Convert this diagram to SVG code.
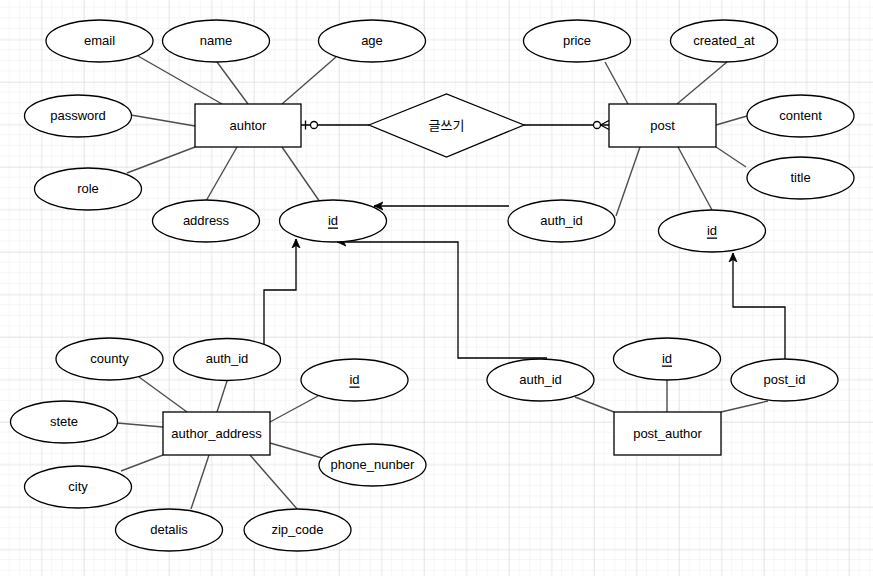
<svg xmlns="http://www.w3.org/2000/svg" width="873" height="576" viewBox="0 0 873 576">
<defs>
<pattern id="minor" width="10.625" height="10.625" patternUnits="userSpaceOnUse" x="41.5" y="39.5">
<path d="M10.625,0 V10.625 M0,10.625 H10.625" fill="none" stroke="#ededed" stroke-width="1"/>
</pattern>
<pattern id="major" width="42.5" height="42.5" patternUnits="userSpaceOnUse" x="41.5" y="39.5">
<path d="M0,0 V42.5 M0,0 H42.5" fill="none" stroke="#d9d9d9" stroke-width="1"/>
</pattern>
<marker id="arr" markerWidth="10" markerHeight="10" refX="9" refY="5" orient="auto" markerUnits="userSpaceOnUse">
<path d="M0,1 L9,5 L0,9 L2.5,5 z" fill="#000" stroke="#000" stroke-width="0.8"/>
</marker>
<style>
.e{fill:#fff;stroke:#000;stroke-width:1.3}
.r{fill:#fff;stroke:#000;stroke-width:1.3}
.t{font-family:"Liberation Sans",Arial,sans-serif;font-size:13px;fill:#000;text-anchor:middle;dominant-baseline:central;transform:translateY(-1px)}
.u{text-decoration:underline}
.a{stroke:#4d4d4d;stroke-width:1.4;fill:none}
.k{stroke:#000;stroke-width:1.3;fill:none}
</style>
</defs>
<rect width="873" height="576" fill="#fff"/>
<rect width="873" height="576" fill="url(#minor)"/>
<rect width="873" height="576" fill="url(#major)"/>

<g id="connectors">
<line class="a" x1="138" y1="56" x2="222" y2="104"/>
<line class="a" x1="217" y1="62" x2="248" y2="104"/>
<line class="a" x1="336" y1="57" x2="282" y2="104"/>
<line class="a" x1="131" y1="115" x2="195" y2="126"/>
<line class="a" x1="127" y1="173" x2="195" y2="147"/>
<line class="a" x1="206" y1="201" x2="237" y2="147"/>
<line class="a" x1="320" y1="202" x2="282" y2="147"/>
<line class="a" x1="605" y1="62" x2="628" y2="104"/>
<line class="a" x1="727" y1="62" x2="677" y2="104"/>
<line class="a" x1="747" y1="116" x2="716" y2="125"/>
<line class="a" x1="746" y1="167" x2="716" y2="147"/>
<line class="a" x1="712" y1="210" x2="678" y2="147"/>
<line class="a" x1="616" y1="216" x2="640" y2="147"/>
<line class="a" x1="139" y1="377" x2="187" y2="412"/>
<line class="a" x1="227" y1="381" x2="217" y2="412"/>
<line class="a" x1="318" y1="396" x2="270" y2="422"/>
<line class="a" x1="117" y1="423" x2="163" y2="427"/>
<line class="a" x1="121" y1="471" x2="163" y2="455"/>
<line class="a" x1="191" y1="509" x2="209" y2="455"/>
<line class="a" x1="298" y1="510" x2="250" y2="455"/>
<line class="a" x1="322" y1="458" x2="270" y2="443"/>
<line class="a" x1="575" y1="397" x2="614" y2="412"/>
<line class="a" x1="667" y1="380" x2="667" y2="412"/>
<line class="a" x1="768" y1="401" x2="721" y2="412"/>
<line class="k" x1="301" y1="125" x2="369" y2="125"/>
<line class="k" x1="305.5" y1="120.5" x2="305.5" y2="129.5"/>
<circle cx="314" cy="125" r="3.5" fill="#fff" stroke="#000" stroke-width="1.3"/>
<line class="k" x1="524" y1="125" x2="609" y2="125"/>
<circle cx="597" cy="125" r="3.5" fill="#fff" stroke="#000" stroke-width="1.3"/>
<path class="k" d="M600.5,125 L609,120.5 M600.5,125 L609,129.5"/>
<path class="k" d="M509,206 H374" marker-end="url(#arr)"/>
<path class="k" d="M547,358 H458 V242 H337" marker-end="url(#arr)"/>
<path class="k" d="M264,344 V290 H296 V239" marker-end="url(#arr)"/>
<path class="k" d="M785,359 V307 H733 V253" marker-end="url(#arr)"/>
</g>

<g id="auhtor"><rect class="r" x="195" y="104" width="106" height="43"/><text class="t" x="248" y="126">auhtor</text></g>
<g id="post"><rect class="r" x="609" y="104" width="107" height="43"/><text class="t" x="662.5" y="126">post</text></g>
<g id="rel"><polygon class="r" points="369,125 446.5,94 524,125 446.5,157"/><text x="446.5" y="125" style="font-family:'Liberation Sans','Noto Sans CJK KR',sans-serif;font-size:13px;text-anchor:middle;dominant-baseline:central">글쓰기</text></g>
<g id="author_address"><rect class="r" x="163" y="412" width="107" height="43"/><text class="t" x="216.5" y="434">author_address</text></g>
<g id="post_author"><rect class="r" x="614" y="412" width="107" height="43"/><text class="t" x="667.5" y="434">post_author</text></g>

<g id="email"><ellipse class="e" cx="99.5" cy="41" rx="53.5" ry="21"/><text class="t" x="99.5" y="41">email</text></g>
<g id="name"><ellipse class="e" cx="216" cy="41" rx="53.5" ry="21"/><text class="t" x="216" y="41">name</text></g>
<g id="age"><ellipse class="e" cx="372" cy="41" rx="53.5" ry="21"/><text class="t" x="372" y="41">age</text></g>
<g id="password"><ellipse class="e" cx="78" cy="116" rx="53.5" ry="21"/><text class="t" x="78" y="116">password</text></g>
<g id="role"><ellipse class="e" cx="88" cy="189" rx="53.5" ry="21"/><text class="t" x="88" y="189">role</text></g>
<g id="address"><ellipse class="e" cx="206" cy="221" rx="53.5" ry="21"/><text class="t" x="206" y="221">address</text></g>
<g id="author_id"><ellipse class="e" cx="333" cy="221" rx="53.5" ry="21"/><text class="t u" x="333" y="221">id</text></g>

<g id="price"><ellipse class="e" cx="577" cy="41" rx="53.5" ry="21"/><text class="t" x="577" y="41">price</text></g>
<g id="created_at"><ellipse class="e" cx="724" cy="41" rx="53.5" ry="21"/><text class="t" x="724" y="41">created_at</text></g>
<g id="content"><ellipse class="e" cx="800.5" cy="116" rx="53.5" ry="21"/><text class="t" x="800.5" y="116">content</text></g>
<g id="title"><ellipse class="e" cx="800.5" cy="178" rx="53.5" ry="21"/><text class="t" x="800.5" y="178">title</text></g>
<g id="post_auth_id"><ellipse class="e" cx="561.5" cy="221" rx="53.5" ry="21"/><text class="t" x="561.5" y="221">auth_id</text></g>
<g id="post_id_attr"><ellipse class="e" cx="712" cy="231" rx="53.5" ry="21"/><text class="t u" x="712" y="231">id</text></g>

<g id="county"><ellipse class="e" cx="109.5" cy="359" rx="53.5" ry="21"/><text class="t" x="109.5" y="359">county</text></g>
<g id="addr_auth_id"><ellipse class="e" cx="227" cy="359.5" rx="53.5" ry="21"/><text class="t" x="227" y="359.5">auth_id</text></g>
<g id="addr_id"><ellipse class="e" cx="354.5" cy="380" rx="53.5" ry="21"/><text class="t u" x="354.5" y="380">id</text></g>
<g id="stete"><ellipse class="e" cx="64" cy="422" rx="53.5" ry="21"/><text class="t" x="64" y="422">stete</text></g>
<g id="city"><ellipse class="e" cx="78" cy="487" rx="53.5" ry="21"/><text class="t" x="78" y="487">city</text></g>
<g id="detalis"><ellipse class="e" cx="169" cy="530" rx="53.5" ry="21"/><text class="t" x="169" y="530">detalis</text></g>
<g id="zip_code"><ellipse class="e" cx="297.5" cy="530" rx="53.5" ry="21"/><text class="t" x="297.5" y="530">zip_code</text></g>
<g id="phone_nunber"><ellipse class="e" cx="372.5" cy="465" rx="53.5" ry="21"/><text class="t" x="372.5" y="465">phone_nunber</text></g>

<g id="pa_auth_id"><ellipse class="e" cx="540.5" cy="380" rx="53.5" ry="21"/><text class="t" x="540.5" y="380">auth_id</text></g>
<g id="pa_id"><ellipse class="e" cx="667" cy="359" rx="53.5" ry="21"/><text class="t u" x="667" y="359">id</text></g>
<g id="pa_post_id"><ellipse class="e" cx="784.5" cy="380" rx="53.5" ry="21"/><text class="t" x="784.5" y="380">post_id</text></g>
</svg>
